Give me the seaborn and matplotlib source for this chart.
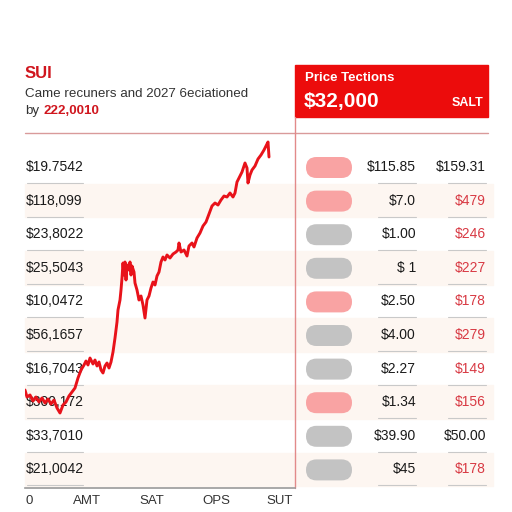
import numpy as np
import pandas as pd
import seaborn as sns
from matplotlib import pyplot as plt
from matplotlib.patches import FancyBboxPatch, Rectangle

# %% data
days = [0, 2, 5, 8, 11, 14, 17, 20, 23, 26, 29, 32, 35, 38, 41, 44, 47, 50, 53, 56,
        59, 61, 63, 65, 68, 70, 72, 74, 76, 78, 80, 82, 84, 86, 88, 90, 92, 93, 95, 96,
        97, 98, 99, 100, 101, 102, 104, 105, 106, 107, 109, 110, 112, 114, 116, 118, 120, 122, 124, 126,
        128, 130, 132, 134, 136, 138, 140, 142, 145, 148, 151, 153, 154, 156, 159, 162, 164, 167, 169, 172,
        175, 178, 181, 184, 187, 190, 193, 196, 199, 202, 205, 208, 210, 212, 214, 217, 220, 222, 223, 225,
        227, 230, 233, 236, 239, 241, 243, 244]
price = [98, 91, 93, 87, 91, 86, 90, 85, 89, 84, 88, 80, 75, 83, 86, 92, 96, 100, 110, 118,
         123, 127, 123, 130, 124, 128, 122, 126, 118, 115, 122, 125, 120, 126, 136, 150, 166, 178, 188, 198,
         210, 225, 213, 226, 208, 223, 218, 226, 213, 222, 216, 205, 198, 188, 192, 183, 170, 188, 192, 200,
         206, 203, 212, 216, 226, 231, 228, 233, 230, 234, 236, 238, 245, 236, 238, 232, 242, 245, 241, 250,
         255, 262, 266, 274, 282, 285, 283, 288, 292, 291, 295, 291, 295, 306, 310, 316, 325, 320, 305, 313,
         318, 322, 329, 333, 338, 342, 346, 331]

row_labels = ['$19.7542', '$118,099', '$23,8022', '$25,5043', '$10,0472',
              '$56,1657', '$16,7043', '$300,172', '$33,7010', '$21,0042']
tick_pos = [4, 62, 127, 191, 255]
tick_labels = ['0', 'AMT', 'SAT', 'OPS', 'SUT']

pill_kind = ['pink', 'pink', 'gray', 'gray', 'pink', 'gray', 'gray', 'pink', 'gray', 'gray']
col_a = ['$115.85', '$7.0', '$1.00', '$ 1', '$2.50', '$4.00', '$2.27', '$1.34', '$39.90', '$45']
col_b = ['$159.31', '$479', '$246', '$227', '$178', '$279', '$149', '$156', '$50.00', '$178']
col_b_red = [False, True, True, True, True, True, True, True, False, True]

dfLine = pd.DataFrame({'Day': days, 'Price': price})

# %% figure
sns.set_theme(style='white')
plt.rcParams['font.family'] = ['Liberation Sans', 'DejaVu Sans']

RED = '#e8121a'
fig = plt.figure(figsize=(5.12, 5.12), dpi=100)
bg = fig.add_axes([0, 0, 1, 1])
bg.set_xlim(0, 512)
bg.set_ylim(512, 0)
bg.axis('off')

# header
bg.text(25, 73, 'SUI', color='#d0161e', fontsize=12, fontweight='bold', va='center')
bg.text(25, 94, 'Came recuners and 2027 6eciationed', color='#333333', fontsize=9.6, va='center')
bg.text(25, 111, 'by', color='#333333', fontsize=9.6, va='center')
bg.text(44, 111, '222,0010', color='#d0161e', fontsize=9.6, fontweight='bold', va='center')
bg.plot([25, 488], [133, 133], color='#d99a9a', lw=1)

bg.add_patch(Rectangle((295, 65), 193, 52, color='#ec0c0c', zorder=2))
bg.text(305, 78, 'Price Tections', color='white', fontsize=9.5, fontweight='bold', va='center', zorder=3)
bg.text(304, 101, '$32,000', color='white', fontsize=15, fontweight='bold', va='center', zorder=3)
bg.text(483, 103, 'SALT', color='white', fontsize=9, fontweight='bold', va='center', ha='right', zorder=3)
bg.plot([295, 295], [117, 488], color='#e28a8a', lw=1)

# rows
step = 33.6
for i, lab in enumerate(row_labels):
    c = 167 + i * step
    if i % 2 == 1:
        bg.add_patch(Rectangle((25, c - step / 2), 468, step, color='#fdf6f1', zorder=0))
    bg.text(26, c, lab, color='#1a1a1a', fontsize=10, va='center')
    bg.plot([27, 83], [c + 16, c + 16], color='#c9c9c9', lw=0.8)

    fc = '#f9a3a3' if pill_kind[i] == 'pink' else '#c3c3c3'
    bg.add_patch(FancyBboxPatch((306, c - 10), 46, 21,
                                boxstyle='round,pad=0,rounding_size=10.5',
                                fc=fc, ec='none', zorder=2))
    bg.text(416, c, col_a[i], color='#1a1a1a', fontsize=10, va='center', ha='right')
    bg.plot([378, 416], [c + 16, c + 16], color='#c9c9c9', lw=0.8)
    bg.text(486, c, col_b[i], color='#d83a44' if col_b_red[i] else '#1a1a1a',
            fontsize=10, va='center', ha='right')
    bg.plot([448, 486], [c + 16, c + 16], color='#c9c9c9', lw=0.8)

# line chart
ax = fig.add_axes([25 / 512, 24 / 512, 270 / 512, 348 / 512])
ax.set_facecolor('none')
sns.lineplot(data=dfLine, x='Day', y='Price', ax=ax, color=RED, lw=2.1)
ax.set_xlim(0, 270)
ax.set_ylim(0, 348)
ax.set_yticks([])
ax.set_xticks(tick_pos)
ax.set_xticklabels(tick_labels)
ax.tick_params(axis='x', length=0, pad=5, labelsize=9.5, labelcolor='#333333')
ax.set_xlabel('')
ax.set_ylabel('')
for s in ['top', 'left', 'right']:
    ax.spines[s].set_visible(False)
ax.spines['bottom'].set_color('#9a9a9a')
ax.spines['bottom'].set_linewidth(1.2)

fig.savefig('out.png', dpi=100)
